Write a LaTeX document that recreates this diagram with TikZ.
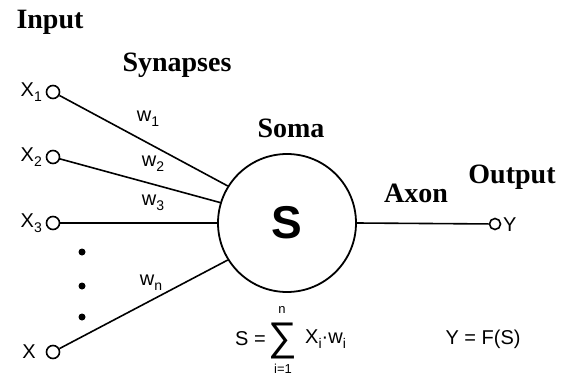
\documentclass[tikz,border=0pt]{standalone}
\usepackage{fontspec}
\setmainfont{Liberation Serif}
\newfontfamily\arial{Liberation Sans}
\newcommand{\lowt}[1]{\raisebox{-0.5ex}{\fontsize{14}{14}\selectfont #1}}
\begin{document}
\begin{tikzpicture}[x=1pt,y=-1pt,
  lbl/.style={font=\fontsize{28}{30}\selectfont\bfseries, inner sep=0},
  sans/.style={font=\arial\fontsize{20}{22}\selectfont, inner sep=0},
  small/.style={font=\arial\fontsize{13}{14}\selectfont, inner sep=0},
  port/.style={circle, draw, line width=1.6pt, minimum size=13pt, inner sep=0},
  wire/.style={line width=1.6pt},
  dotm/.style={circle, fill, minimum size=7pt, inner sep=0}]
\useasboundingbox (0,0) rectangle (561,379);
% labels
\node[lbl] (input) at (50,22) {Input};
\node[lbl] (syn) at (177,65) {Synapses};
\node[lbl] (soma lbl) at (291,128) {Soma};
\node[lbl] (axon) at (416,193) {Axon};
\node[lbl] (output) at (512,177) {Output};
% input ports
\node[port] (in1) at (53,92) {};
\node[port] (in2) at (53,157) {};
\node[port] (in3) at (53,223) {};
\node[port] (in4) at (53,352) {};
\node[sans, anchor=east] (x1) at (42,92) {X\lowt{1}};
\node[sans, anchor=east] (x2) at (42,157) {X\lowt{2}};
\node[sans, anchor=east] (x3) at (42,223) {X\lowt{3}};
\node[sans, anchor=east] (x4) at (36,352) {X};
% dots
\node[dotm] (d1) at (82,252) {};
\node[dotm] (d2) at (82,286) {};
\node[dotm] (d3) at (82,317) {};
% soma
\node[circle, draw, line width=1.8pt, minimum size=138pt, inner sep=0] (soma) at (287,223) {};
\node[font=\arial\bfseries\fontsize{46}{46}\selectfont, inner sep=0] (S) at (287,223) {S};
% output
\node[port, minimum size=11pt] (out) at (495,224) {};
\node[sans, anchor=west] (Y) at (503,225) {Y};
% wires
\draw[wire] (in1) -- (soma.148);
\draw[wire] (in2) -- (soma.163);
\draw[wire] (in3) -- (soma.180);
\draw[wire] (in4) -- (soma.212);
\draw[wire] (soma.east) -- (out);
% weights
\node[sans] (w1) at (148,119) {w\lowt{1}};
\node[sans] (w2) at (153,164) {w\lowt{2}};
\node[sans] (w3) at (153,203) {w\lowt{3}};
\node[sans] (wn) at (151,283) {w\lowt{n}};
% formula
\node[sans, anchor=east] (seq) at (266,339) {S =};
\node[font=\arial\fontsize{40}{40}\selectfont, inner sep=0] (sig) at (283,341) {∑};
\node[small] (n) at (282,310) {n};
\node[small] (i1) at (283,369) {i=1};
\node[sans, anchor=west] (xw) at (305,339) {X\lowt{i}·w\lowt{i}};
\node[sans] (yf) at (483,339) {Y = F(S)};
\end{tikzpicture}
\end{document}
